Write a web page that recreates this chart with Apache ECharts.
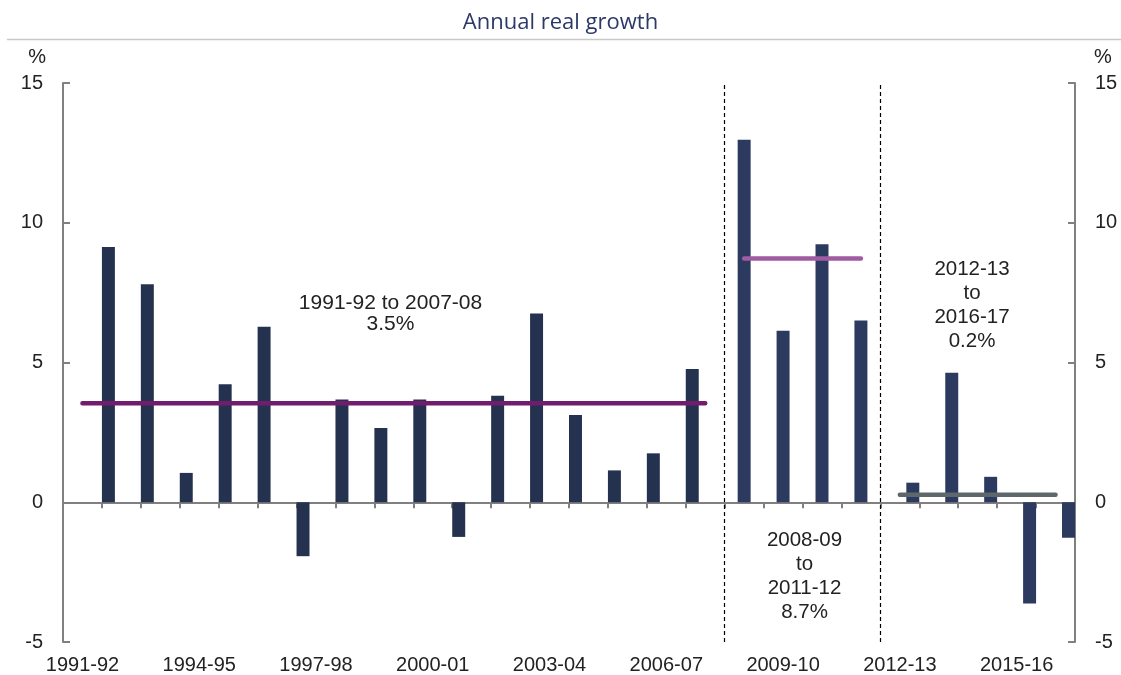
<!DOCTYPE html>
<html>
<head>
<meta charset="utf-8">
<script src="https://cdn.jsdelivr.net/npm/echarts@6/dist/echarts.min.js"></script>
<style>
  html, body { margin: 0; padding: 0; background: #fff; }
  #main-chart { width: 1121px; height: 675px; }
</style>
</head>
<body>
<div id="main-chart"></div>
<script>
// financial years on the category axis
const years = [
  '1991-92', '1992-93', '1993-94', '1994-95', '1995-96', '1996-97', '1997-98',
  '1998-99', '1999-00', '2000-01', '2001-02', '2002-03', '2003-04', '2004-05',
  '2005-06', '2006-07', '2007-08', '2008-09', '2009-10', '2010-11', '2011-12',
  '2012-13', '2013-14', '2014-15', '2015-16', '2016-17'
];

// annual real growth, %
const growth = [
  null, 9.13, 7.80, 1.05, 4.22, 6.28, -1.93, 3.68, 2.66, 3.68, -1.24, 3.81, 6.75,
  3.12, 1.14, 1.75, 4.77, 12.97, 6.14, 9.23, 6.50, 0.70, 4.63, 0.91, -3.62, -1.27
];

// the three periods and their average growth
const periodStart = ['1991-92', '2008-09', '2012-13'];
const periodEnd = ['2007-08', '2011-12', '2016-17'];
const periodAvg = [3.54, 8.72, 0.27];
const periodNote = [
  '1991-92 to 2007-08\n3.5%',
  '2008-09\nto\n2011-12\n8.7%',
  '2012-13\nto\n2016-17\n0.2%'
];

const yTicks = { min: -5, max: 15, interval: 5 };

const barColors = ['#243250', '#2c3a5f', '#2c3a5f'];
const avgColors = ['#701d6d', '#a05ca3', '#5e686b'];
const font = '"Liberation Sans", Arial, sans-serif';
const axisGrey = '#808080';

let chartDom = document.getElementById('main-chart');
let myChart = echarts.init(chartDom, null, { renderer: 'canvas' });

let series = [];
for (let p = 0; p < periodStart.length; p++) {
  let s = years.indexOf(periodStart[p]);
  let e = years.indexOf(periodEnd[p]);
  series.push({
    type: 'bar',
    xAxisIndex: 0,
    yAxisIndex: 0,
    barGap: '0%',
    barCategoryGap: '0%',
    itemStyle: { color: barColors[p] },
    data: growth.map((v, i) => (i >= s && i <= e ? v : null)),
    z: 2
  });
}
for (let p = 0; p < periodStart.length; p++) {
  let s = years.indexOf(periodStart[p]);
  let e = years.indexOf(periodEnd[p]);
  series.push({
    type: 'line',
    xAxisIndex: 0,
    yAxisIndex: 0,
    symbol: 'none',
    lineStyle: { color: avgColors[p], width: 4.5, cap: 'round' },
    data: years.map((y, i) => (i >= s && i <= e ? periodAvg[p] : null)),
    z: 4
  });
}
// dashed separators at the start of the 2nd and 3rd periods
series.push({
  type: 'scatter',
  xAxisIndex: 2,
  yAxisIndex: 0,
  data: [],
  silent: true,
  markLine: {
    symbol: 'none',
    silent: true,
    label: { show: false },
    lineStyle: { color: '#000', type: [4, 3], width: 1.2 },
    data: periodStart.slice(1).map(y => ({ xAxis: years.indexOf(y) }))
  }
});

const yAxisBase = {
  type: 'value',
  min: yTicks.min,
  max: yTicks.max,
  interval: yTicks.interval,
  name: '%',
  nameLocation: 'end',
  nameGap: 16,
  axisLine: { show: true, onZero: false, lineStyle: { color: axisGrey, width: 2 } },
  axisTick: { show: true, inside: true, length: 7, lineStyle: { color: axisGrey, width: 2 } },
  splitLine: { show: false },
  axisLabel: { fontFamily: font, fontSize: 20, color: '#222', margin: 20 }
};

let option = {
  animation: false,
  backgroundColor: '#fff',
  title: {
    text: 'Annual real growth',
    left: 'center',
    top: 7,
    textStyle: { fontFamily: '"Open Sans", sans-serif', fontSize: 22, fontWeight: 'normal', color: '#2b3968' }
  },
  grid: { left: 63, right: 46, top: 83, bottom: 33 },
  xAxis: [
    {
      type: 'category',
      data: years,
      position: 'bottom',
      axisLine: { show: false, onZero: false },
      axisTick: { show: false },
      axisLabel: { interval: 2, fontFamily: font, fontSize: 20, color: '#222', margin: 13 },
      splitLine: { show: false }
    },
    {
      type: 'category',
      data: years,
      position: 'bottom',
      axisLine: { show: true, onZero: true, onZeroAxisIndex: 0, lineStyle: { color: axisGrey, width: 2 } },
      axisTick: { show: true, interval: 0, length: 6, lineStyle: { color: axisGrey, width: 2 } },
      axisLabel: { show: false },
      splitLine: { show: false }
    },
    {
      type: 'value',
      min: 0,
      max: years.length,
      show: false
    }
  ],
  yAxis: [
    Object.assign({}, yAxisBase, {
      position: 'left',
      nameTextStyle: { fontFamily: font, fontSize: 20, color: '#222', align: 'right', padding: [0, 17, 0, 0] }
    }),
    Object.assign({}, yAxisBase, {
      position: 'right',
      nameTextStyle: { fontFamily: font, fontSize: 20, color: '#222', align: 'left', padding: [0, 0, 0, 19] }
    })
  ],
  graphic: [
    {
      type: 'line',
      shape: { x1: 7, y1: 39.5, x2: 1121, y2: 39.5 },
      style: { stroke: '#c8c8c8', lineWidth: 1.5 }
    },
    {
      type: 'text', x: 390.5, y: 314,
      style: { text: periodNote[0], font: '21px ' + font, fill: '#222', textAlign: 'center', textVerticalAlign: 'middle', lineHeight: 21 }
    },
    {
      type: 'text', x: 804.5, y: 576,
      style: { text: periodNote[1], font: '20.5px ' + font, fill: '#222', textAlign: 'center', textVerticalAlign: 'middle', lineHeight: 24 }
    },
    {
      type: 'text', x: 972, y: 305,
      style: { text: periodNote[2], font: '20.5px ' + font, fill: '#222', textAlign: 'center', textVerticalAlign: 'middle', lineHeight: 24 }
    }
  ],
  series: series
};

myChart.setOption(option);
</script>
</body>
</html>
